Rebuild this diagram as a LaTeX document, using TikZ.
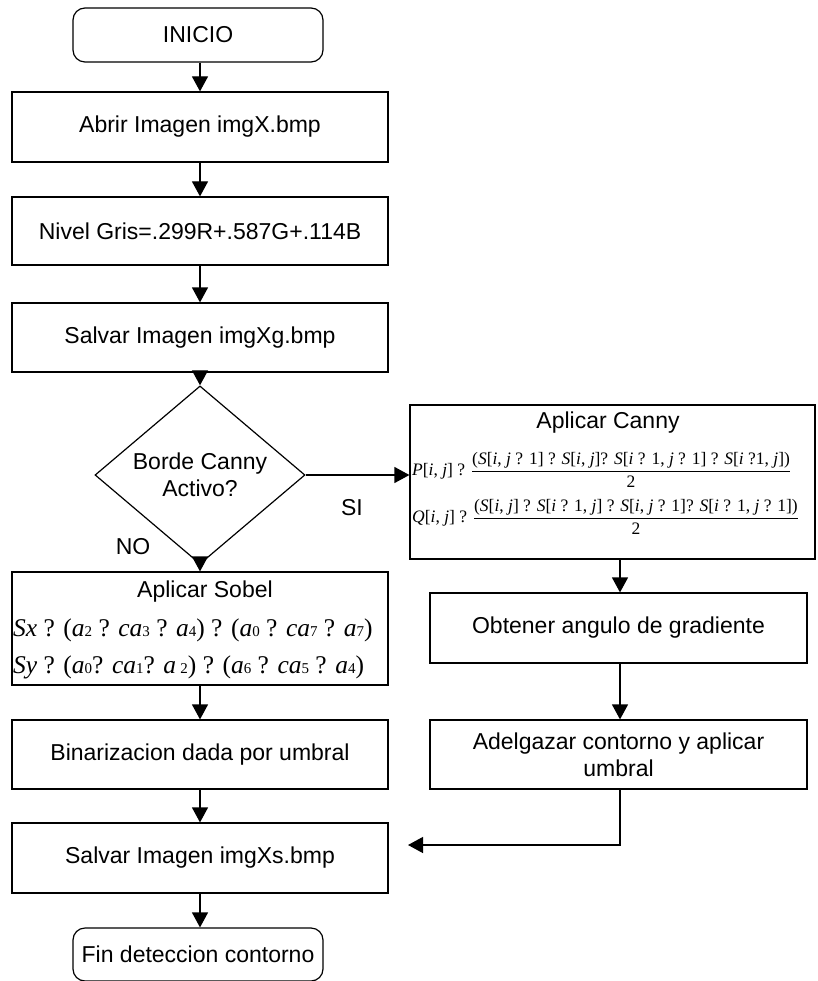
\documentclass[tikz,border=0pt]{standalone}
\usepackage{amsmath}
\usepackage{fontspec}
\setmainfont{Liberation Sans}
\newfontfamily\tnr{Liberation Serif}
\usetikzlibrary{shapes.geometric,arrows.meta}
\newcommand{\sn}[1]{{\fontsize{15}{15}\selectfont #1}}
\newcommand{\iv}[1]{\textit{#1}}

\begin{document}
\begin{tikzpicture}[x=1pt,y=-1pt]
    \tikzstyle{every node}+=[font=\fontsize{23}{27}\selectfont]
    \tikzstyle{proc}=[draw, line width=1.2pt, rectangle, minimum width=376pt, minimum height=70pt, inner sep=0pt]
    \tikzstyle{term}=[draw, line width=1.2pt, rectangle, rounded corners=12pt, minimum width=250pt, minimum height=54pt, inner sep=0pt]
    \tikzstyle{flow}=[line width=1.2pt, -{Triangle[length=15pt,width=16pt]}]
    \tikzstyle{formula}=[anchor=west, inner sep=0pt, font=\tnr\fontsize{17.5}{20}\selectfont]
    \useasboundingbox (0,0) rectangle (817,981);
    \node [term] (inicio) at (198,35) {INICIO};
    \node [proc] (abrir) at (200,127) {Abrir Imagen imgX.bmp};
    \node [proc, minimum height=68pt] (nivel) at (200,231) {Nivel Gris=.299R+.587G+.114B};
    \node [proc, minimum height=69pt] (salvarg) at (200,337.5) {Salvar Imagen imgXg.bmp};
    \node [draw, line width=1.2pt, diamond, minimum width=210pt, minimum height=140pt, inner sep=0pt, align=center] (borde) at (200,475) {Borde Canny\\Activo?};
    \node (no) at (133,547) {NO};
    \node (si) at (352,508) {SI};
    \node [proc, minimum width=405pt, minimum height=154pt] (canny) at (612.5,482) {};
    \node (cannytit) at (608,423) {Aplicar Canny};
    \node [formula] (pij) at (412,470) {\iv{P}[\iv{i}, \iv{j}] ? $\dfrac{\mbox{(\iv{S}[\iv{i}, \iv{j} ? 1] ? \iv{S}[\iv{i}, \iv{j}]? \iv{S}[\iv{i} ? 1, \iv{j} ? 1] ? \iv{S}[\iv{i} ?1, \iv{j}])}}{\mbox{2}}$};
    \node [formula] (qij) at (412,517) {\iv{Q}[\iv{i}, \iv{j}] ? $\dfrac{\mbox{(\iv{S}[\iv{i}, \iv{j}] ? \iv{S}[\iv{i} ? 1, \iv{j}] ? \iv{S}[\iv{i}, \iv{j} ? 1]? \iv{S}[\iv{i} ? 1, \iv{j} ? 1])}}{\mbox{2}}$};
    \node [proc, minimum height=113pt] (sobel) at (200,628.5) {};
    \node (sobeltit) at (205,592) {Aplicar Sobel};
    \node [formula, font=\tnr\fontsize{25.5}{28}\selectfont] (sx) at (13,630) {\iv{Sx} ? (\iv{a}\sn{2} ? \iv{ca}\sn{3} ? \iv{a}\sn{4}) ? (\iv{a}\sn{0} ? \iv{ca}\sn{7} ? \iv{a}\sn{7})};
    \node [formula, font=\tnr\fontsize{25.5}{28}\selectfont] (sy) at (13,667) {\iv{Sy} ? (\iv{a}\sn{0}? \iv{ca}\sn{1}? \iv{a}\,\sn{2}) ? (\iv{a}\sn{6} ? \iv{ca}\sn{5} ? \iv{a}\sn{4})};
    \node [proc, minimum height=69pt] (binar) at (200,754.5) {Binarizacion dada por umbral};
    \node [proc] (salvars) at (200,858) {Salvar Imagen imgXs.bmp};
    \node [term, minimum height=53pt] (fin) at (198,954.5) {Fin deteccion contorno};
    \node [proc, minimum width=377pt] (obtener) at (618.5,628) {Obtener angulo de gradiente};
    \node [proc, minimum width=377pt, minimum height=69pt, align=center] (adelg) at (618.5,754.5) {Adelgazar contorno y aplicar\\umbral};
    \coordinate (codo) at (620,845);
    \coordinate (llega) at (408,845);
    \draw [flow] (inicio.south -| abrir.north) -- (abrir.north);
    \draw [flow] (abrir) -- (nivel);
    \draw [flow] (nivel) -- (salvarg);
    \draw [flow] (salvarg) -- (borde);
    \draw [flow] (borde.east) -- (borde.east -| canny.west);
    \draw [flow] (borde) -- (sobel);
    \draw [flow] (codo |- canny.south) -- (codo |- obtener.north);
    \draw [flow] (codo |- obtener.south) -- (codo |- adelg.north);
    \draw [flow] (codo |- adelg.south) -- (codo) -- (llega);
    \draw [flow] (sobel) -- (binar);
    \draw [flow] (binar) -- (salvars);
    \draw [flow] (salvars.south) -- (salvars.south |- fin.north);
\end{tikzpicture}
\end{document}
